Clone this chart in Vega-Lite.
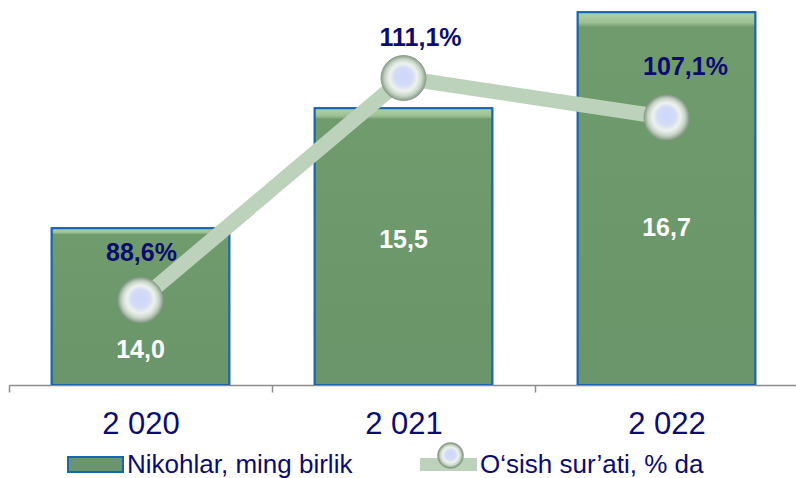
{
  "$schema": "https://vega.github.io/schema/vega-lite/v6.json",
  "width": 789,
  "height": 380,
  "autosize": {"type": "none"},
  "padding": {"left": 9, "top": 5, "right": 0, "bottom": 93},
  "background": "white",
  "config": {
    "view": {"stroke": null},
    "font": "Liberation Sans"
  },
  "data": {
    "values": [
      {"year": "2 020", "nikoh": 14.0, "nikohText": "14,0", "osish": 88.6, "osishText": "88,6%"},
      {"year": "2 021", "nikoh": 15.5, "nikohText": "15,5", "osish": 111.1, "osishText": "111,1%"},
      {"year": "2 022", "nikoh": 16.7, "nikohText": "16,7", "osish": 107.1, "osishText": "107,1%"}
    ]
  },
  "encoding": {
    "x": {
      "field": "year",
      "type": "nominal",
      "sort": null,
      "scale": {"paddingInner": 0, "paddingOuter": 0},
      "axis": {
        "title": null,
        "labelAngle": 0,
        "labelFontSize": 31,
        "labelColor": "#0c0c70",
        "labelFont": "Liberation Sans",
        "labelPadding": 17,
        "tickBand": "extent",
        "tickSize": 7,
        "tickColor": "#8c8c8c",
        "domainColor": "#8c8c8c",
        "domainWidth": 1.5,
        "tickWidth": 1.5,
        "grid": false
      }
    }
  },
  "layer": [
    {
      "layer": [
        {
          "mark": {"type": "bar", "width": {"band": 0.675}, "stroke": "#1a64b0", "strokeWidth": 2, "clip": true},
          "encoding": {
            "y": {"field": "nikoh", "type": "quantitative", "scale": {"domain": [12.04, 16.79], "zero": false, "nice": false}, "axis": null},
            "y2": {"datum": 12.04},
            "fill": {
              "datum": "Nikohlar, ming birlik",
              "scale": {"range": ["#6b966b"]},
              "legend": {
                "orient": "none",
                "legendX": 58,
                "legendY": 431,
                "title": null,
                "padding": 0,
                "symbolType": "M-1,-0.273H1V0.273H-1Z",
                "symbolSize": 3025,
                "symbolStrokeColor": "#1a64b0",
                "symbolStrokeWidth": 2,
                "labelFontSize": 26,
                "labelColor": "#0c0c70",
                "labelFont": "Liberation Sans",
                "labelOffset": 3,
                "labelLimit": 400
              }
            }
          }
        },
        {
          "mark": {"type": "bar", "width": {"band": 0.675}, "stroke": "#1a64b0", "strokeWidth": 2, "clip": true,
            "fill": {"gradient": "linear", "x1": 0, "y1": 0, "x2": 0, "y2": 1, "stops": [{"offset": 0, "color": "#b2d2aa"}, {"offset": 0.028, "color": "#9cc092"}, {"offset": 0.04, "color": "#709b6d"}, {"offset": 1, "color": "#6a956a"}]}},
          "encoding": {
            "y": {"field": "nikoh", "type": "quantitative"},
            "y2": {"datum": 12.04}
          }
        },
        {
          "transform": [{"filter": "datum.year == '2 020'"}],
          "mark": {"type": "text", "color": "white", "fontWeight": "bold", "fontSize": 25, "font": "Liberation Sans", "baseline": "middle", "dy": 122},
          "encoding": {"y": {"field": "nikoh", "type": "quantitative"}, "text": {"field": "nikohText"}}
        },
        {
          "transform": [{"filter": "datum.year == '2 021'"}],
          "mark": {"type": "text", "color": "white", "fontWeight": "bold", "fontSize": 25, "font": "Liberation Sans", "baseline": "middle", "dy": 132},
          "encoding": {"y": {"field": "nikoh", "type": "quantitative"}, "text": {"field": "nikohText"}}
        },
        {
          "transform": [{"filter": "datum.year == '2 022'"}],
          "mark": {"type": "text", "color": "white", "fontWeight": "bold", "fontSize": 25, "font": "Liberation Sans", "baseline": "middle", "dy": 216},
          "encoding": {"y": {"field": "nikoh", "type": "quantitative"}, "text": {"field": "nikohText"}}
        }
      ]
    },
    {
      "layer": [
        {
          "mark": {"type": "line", "strokeWidth": 15, "strokeCap": "butt"},
          "encoding": {
            "y": {"field": "osish", "type": "quantitative", "scale": {"domain": [80, 118.5], "zero": false, "nice": false}, "axis": null},
            "stroke": {
              "datum": "O‘sish sur’ati, % da",
              "scale": {"range": ["#bdd2bb"]},
              "legend": {
                "orient": "none",
                "legendX": 411,
                "legendY": 431,
                "title": null,
                "padding": 0,
                "symbolType": "M-1,-0.23H1V0.23H-1Z",
                "symbolSize": 3249,
                "symbolFillColor": "#bdd2bb",
                "symbolStrokeWidth": 0,
                "labelFontSize": 26,
                "labelColor": "#0c0c70",
                "labelFont": "Liberation Sans",
                "labelOffset": 3,
                "labelLimit": 400,
                "encode": {"symbols": {"update": {"fill": {"value": "#bdd2bb"}, "strokeWidth": {"value": 0}}}}
              }
            }
          }
        },
        {
          "mark": {
            "type": "point",
            "filled": true,
            "size": 2025,
            "opacity": 1,
            "fill": {"gradient": "radial", "x1": 0.5, "y1": 0.45, "r1": 0, "x2": 0.5, "y2": 0.5, "r2": 0.5, "stops": [{"offset": 0, "color": "#cdd6fb"}, {"offset": 0.4, "color": "#d3dbf6"}, {"offset": 0.62, "color": "#eef2ee"}, {"offset": 0.82, "color": "#c8d5c7"}, {"offset": 1, "color": "#8a9e8a"}]},
            "stroke": "#8d9d8d",
            "strokeWidth": 1
          },
          "encoding": {
            "y": {"field": "osish", "type": "quantitative"},
            "shape": {
              "datum": "pt",
              "scale": {"range": ["circle"]},
              "legend": {
                "orient": "none",
                "legendX": 428,
                "legendY": 437,
                "zindex": 2,
                "title": null,
                "padding": 0,
                "symbolSize": 625,
                "labelExpr": "''",
                "labelFontSize": 1,
                "encode": {"symbols": {"update": {"fill": {"value": {"gradient": "radial", "x1": 0.5, "y1": 0.45, "r1": 0, "x2": 0.5, "y2": 0.5, "r2": 0.5, "stops": [{"offset": 0, "color": "#cdd6fb"}, {"offset": 0.4, "color": "#d3dbf6"}, {"offset": 0.62, "color": "#eef2ee"}, {"offset": 0.82, "color": "#c8d5c7"}, {"offset": 1, "color": "#8a9e8a"}]}}, "stroke": {"value": "#8d9d8d"}, "strokeWidth": {"value": 1}, "opacity": {"value": 1}}}}
              }
            }
          }
        },
        {
          "transform": [{"filter": "datum.year == '2 020'"}],
          "mark": {"type": "text", "color": "#0c0c70", "fontWeight": "bold", "fontSize": 25, "font": "Liberation Sans", "baseline": "middle", "dy": -47, "dx": 1},
          "encoding": {"y": {"field": "osish", "type": "quantitative"}, "text": {"field": "osishText"}}
        },
        {
          "transform": [{"filter": "datum.year == '2 021'"}],
          "mark": {"type": "text", "color": "#0c0c70", "fontWeight": "bold", "fontSize": 25, "font": "Liberation Sans", "baseline": "middle", "dy": -40, "dx": 17},
          "encoding": {"y": {"field": "osish", "type": "quantitative"}, "text": {"field": "osishText"}}
        },
        {
          "transform": [{"filter": "datum.year == '2 022'"}],
          "mark": {"type": "text", "color": "#0c0c70", "fontWeight": "bold", "fontSize": 25, "font": "Liberation Sans", "baseline": "middle", "dy": -51, "dx": 19},
          "encoding": {"y": {"field": "osish", "type": "quantitative"}, "text": {"field": "osishText"}}
        }
      ]
    }
  ],
  "resolve": {"scale": {"y": "independent"}}
}
